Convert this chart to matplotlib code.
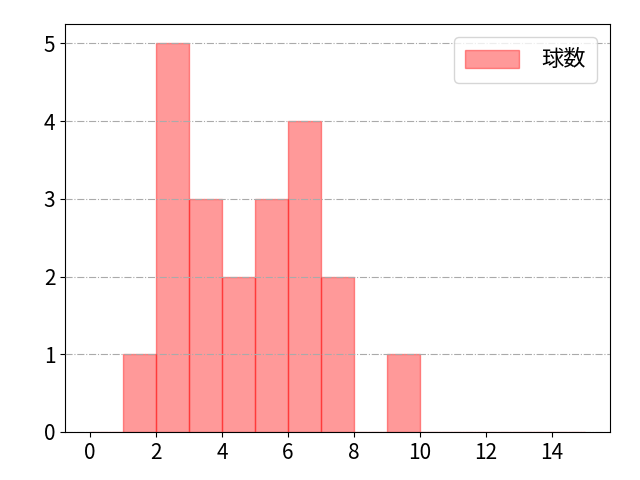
import matplotlib
matplotlib.use("Agg")
import matplotlib.pyplot as plt

plt.rcParams['font.family'] = ['Noto Sans CJK JP', 'DejaVu Sans']

bin_edges = list(range(0, 16))
bin_left = list(range(0, 15))
counts = [0, 1, 5, 3, 2, 3, 4, 2, 0, 1, 0, 0, 0, 0, 0]
label = "球数"

fig, ax = plt.subplots(figsize=(6.4, 4.8), dpi=100)
fig.subplots_adjust(left=0.1016, right=0.953, top=0.95, bottom=0.1)
ax.hist(bin_left, bins=bin_edges, weights=counts, color='red', alpha=0.4,
        edgecolor='red', linewidth=1, label=label)
ax.grid(axis='y', color='#aaaaaa', linestyle='-.', linewidth=0.8)
ax.set_axisbelow(False)
ax.set_xticks(list(range(0, 15, 2)))
ax.set_yticks(list(range(0, 6)))
ax.tick_params(labelsize=15)
ax.legend(fontsize=16, handletextpad=1.0, handlelength=2.4, handleheight=0.9,
          borderpad=0.5, borderaxespad=0.6, loc='upper right')
fig.savefig("out.png")
